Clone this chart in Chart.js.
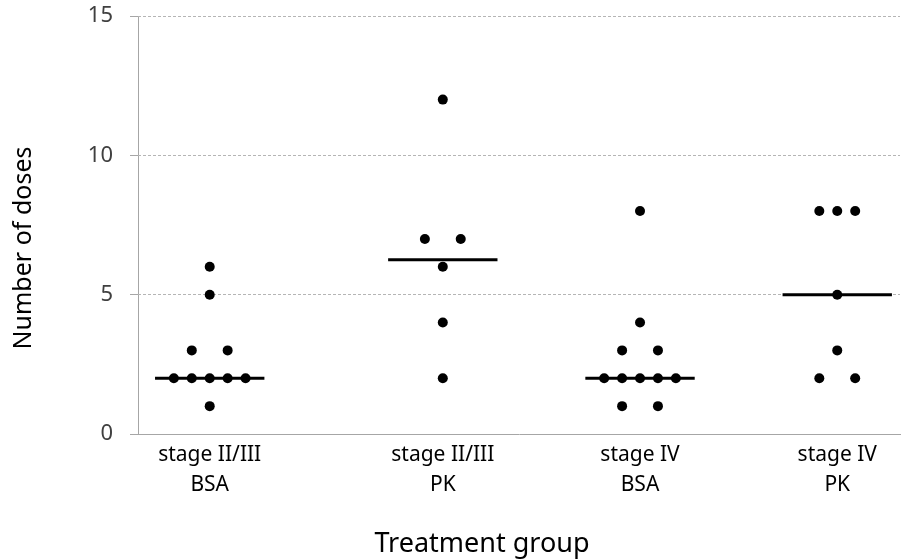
<!DOCTYPE html>
<html>
<head>
<meta charset="utf-8">
<script src="https://cdn.jsdelivr.net/npm/chart.js@4.4.1/dist/chart.umd.min.js"></script>
<style>
  body { margin: 0; background: #fff; }
  #wrap { width: 905px; height: 560px; }
</style>
</head>
<body>
<div id="wrap"><canvas id="dosePlot"></canvas></div>
<script>
// groups, in plot order
var groupLabels = [
    ["stage II/III", "BSA"],
    ["stage II/III", "PK"],
    ["stage IV", "BSA"],
    ["stage IV", "PK"]
]
// x value of each group (x axis counted in dot widths)
var groupX = [4, 17, 28, 39]

// number of doses per patient, and the dot's side step in its row
var doses1 = [6, 5, 3, 3, 2, 2, 2, 2, 2, 1]
var step1  = [0, 0, -1, 1, -2, -1, 0, 1, 2, 0]
var doses2 = [12, 7, 7, 6, 4, 2]
var step2  = [0, -1, 1, 0, 0, 0]
var doses3 = [8, 4, 3, 3, 2, 2, 2, 2, 2, 1, 1]
var step3  = [0, 0, -1, 1, -2, -1, 0, 1, 2, -1, 1]
var doses4 = [8, 8, 8, 5, 3, 2, 2]
var step4  = [-1, 0, 1, 0, 0, -1, 1]

var medians = [2, 6.25, 2, 5]
var yTicks = [0, 5, 10, 15]

var allDoses = [doses1, doses2, doses3, doses4]
var allSteps = [step1, step2, step3, step4]
var medianHalf = 3.05

var datasets = []
allDoses.forEach(function(vals, g){
    datasets.push({
        label: "group " + (g + 1),
        data: vals.map(function(v, i){
            return {x: groupX[g] + allSteps[g][i], y: v}
        }),
        pointRadius: 5,
        pointHoverRadius: 5,
        pointBorderWidth: 0,
        pointBackgroundColor: "#000",
        showLine: false,
        order: 1
    })
})
medians.forEach(function(m, g){
    datasets.push({
        label: "median " + (g + 1),
        data: [{x: groupX[g] - medianHalf, y: m}, {x: groupX[g] + medianHalf, y: m}],
        showLine: true,
        borderColor: "#000",
        borderWidth: 3,
        pointRadius: 0,
        order: 2
    })
})

// axis titles, placed where the reference has them
var axisTitles = {
    id: "axisTitles",
    afterDraw: function(chart){
        var ctx = chart.ctx
        ctx.save()
        ctx.fillStyle = "#000"
        ctx.textAlign = "center"
        ctx.textBaseline = "middle"
        ctx.font = '27px "Noto Sans"'
        ctx.fillText("Treatment group", 482, 544)
        ctx.translate(24, 248)
        ctx.rotate(-Math.PI / 2)
        ctx.font = '25px "Noto Sans"'
        ctx.fillText("Number of doses", 0, 0)
        ctx.restore()
    }
}

var chart = new Chart(document.getElementById("dosePlot"), {
    type: "scatter",
    data: {datasets: datasets},
    plugins: [axisTitles],
    options: {
        responsive: true,
        maintainAspectRatio: false,
        animation: false,
        layout: {padding: {top: 16, right: 1, left: 0, bottom: 0}},
        plugins: {
            legend: {display: false},
            tooltip: {enabled: false}
        },
        scales: {
            x: {
                type: "linear",
                min: 0,
                max: 42.5,
                // 0 carries the solid y axis line, the rest are the groups
                afterBuildTicks: function(scale){
                    scale.ticks = [{value: 0}].concat(groupX.map(function(v){ return {value: v} }))
                },
                afterFit: function(scale){ scale.height = 126 },
                ticks: {
                    autoSkip: false,
                    maxRotation: 0,
                    padding: 6,
                    color: "#000",
                    font: {family: "Noto Sans", size: 21, lineHeight: 30 / 21},
                    callback: function(value, index){ return index === 0 ? "" : groupLabels[index - 1] }
                },
                grid: {
                    display: true,
                    drawTicks: false,
                    color: function(c){ return c.tick && c.tick.value === 0 ? "#a6a6a6" : "rgba(0,0,0,0)" }
                },
                border: {display: true, color: "#a6a6a6", width: 1}
            },
            y: {
                min: 0,
                max: 15,
                afterBuildTicks: function(scale){
                    scale.ticks = yTicks.map(function(v){ return {value: v} })
                },
                afterFit: function(scale){
                    scale.width = 138
                    scale.paddingTop = 0
                    scale.paddingBottom = 0
                },
                ticks: {
                    padding: 17,
                    color: "#404040",
                    font: {family: "Noto Sans", size: 22}
                },
                grid: {
                    color: function(c){ return c.tick && c.tick.value === 0 ? "rgba(0,0,0,0)" : "#b5b5b5" },
                    tickColor: "#a6a6a6",
                    tickLength: 8,
                    tickBorderDash: []
                },
                border: {display: false, dash: [3, 2]}
            }
        }
    }
})
</script>
</body>
</html>
